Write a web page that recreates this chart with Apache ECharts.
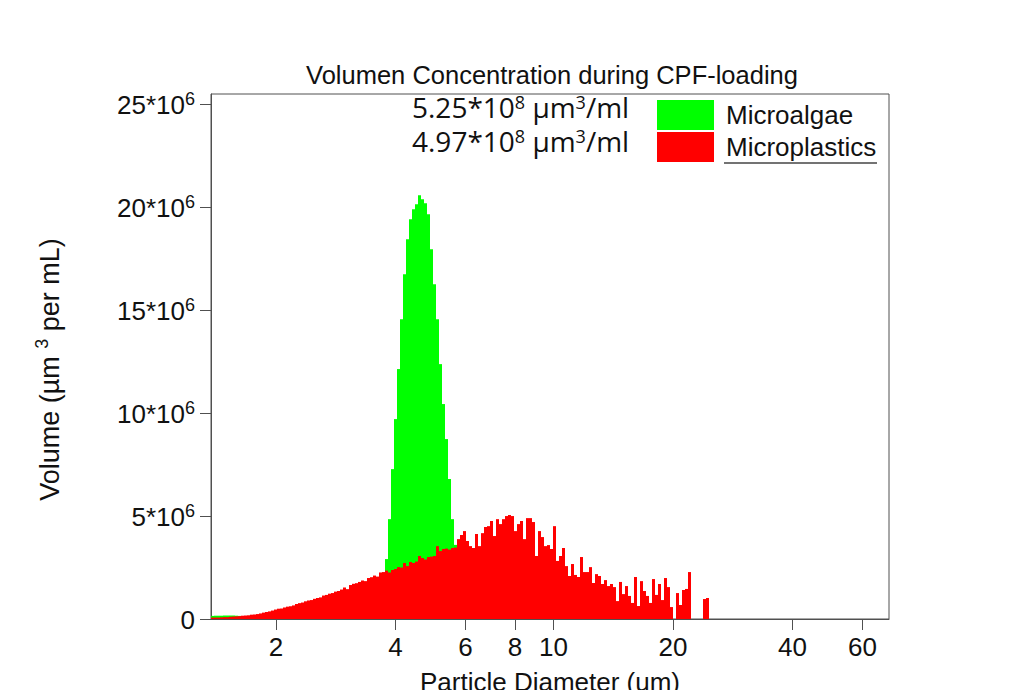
<!DOCTYPE html>
<html>
<head>
<meta charset="utf-8">
<script src="https://cdn.jsdelivr.net/npm/echarts@6/dist/echarts.min.js"></script>
<style>
  html, body { margin: 0; padding: 0; background: #ffffff; }
  #chart { width: 1024px; height: 690px; }
</style>
</head>
<body>
<div id="chart"></div>
<script>
// ---- Bin layout (log-spaced particle-size channels) ----
const binStartUm = 1.372;        // lower edge of the first channel (µm)
const binLogStep = 0.00756;      // channel width in log10(µm)

// ---- Microplastics volume per channel (×10^6 µm³/mL), channels from binStartUm ----
const microplastics = [
  0.07,0.07,0.07,0.08,0.09,0.09,0.11,0.12,0.13,0.14,
  0.16,0.17,0.18,0.21,0.22,0.24,0.27,0.31,0.34,0.37,
  0.41,0.46,0.50,0.51,0.56,0.60,0.62,0.66,0.73,0.77,
  0.80,0.86,0.90,0.92,0.98,1.02,1.05,1.14,1.17,1.23,
  1.26,1.33,1.36,1.43,1.53,1.45,1.65,1.71,1.74,1.80,
  1.87,1.84,1.99,2.03,2.11,2.06,2.26,2.28,2.35,2.26,
  2.38,2.43,2.52,2.50,2.72,2.57,2.77,2.72,2.79,3.06,
  2.96,2.89,3.01,3.03,3.06,3.54,3.30,3.40,3.42,3.37,
  3.45,3.47,3.88,4.08,4.27,3.79,3.54,3.45,4.13,3.54,
  4.17,4.47,4.51,4.76,4.03,4.85,4.61,4.85,5.00,5.05,
  5.00,4.27,4.61,4.76,3.88,4.90,4.90,4.71,3.06,4.27,
  3.98,3.54,3.59,3.40,4.51,2.82,3.06,3.45,2.57,2.09,
  2.67,2.14,2.04,3.01,2.28,2.28,2.52,1.75,2.18,2.09,
  1.70,1.89,1.60,1.70,1.55,0.87,1.80,1.21,1.60,1.12,
  0.78,2.04,0.63,1.84,1.36,1.12,0.78,1.94,1.17,1.70,
  0.92,1.99,1.55,0.58,0.00,1.26,0.68,1.41,1.46,2.28,
  0.00,0.00,0.00,0.00,0.97,1.02
];

// ---- Microalgae volume per channel (×10^6 µm³/mL) ----
const microalgaeTail = [0.15,0.16,0.16,0.16,0.17,0.17,0.17,0.17,0.16,0.15]; // from channel 0
const microalgaePeakStart = 57;                                             // channel index
const microalgaePeak = [
  2.10,2.91,4.85,7.28,9.71,12.14,14.56,16.75,18.45,19.42,
  19.90,20.15,20.58,20.39,20.19,19.66,17.96,16.26,14.56,12.38,
  10.44,8.74,6.80,4.85,3.60,2.20
];

// ---- Axes ----
const xMinUm = 1.372, xMaxUm = 70;
const xTickValues = [2, 4, 6, 8, 10, 20, 40, 60];
const yMax = 25.5, yInterval = 5;   // ×10^6
const totals = ['5.25', '4.97'];    // ×10^8 µm³/ml

const log10 = Math.log10;
function channels(values, startIndex) {
  return values.map((v, i) => {
    const k = startIndex + i;
    const lo = log10(binStartUm) + k * binLogStep;
    return [lo, lo + binLogStep, v];
  });
}

function barRenderer(color) {
  return function (params, api) {
    const v = api.value(2);
    if (v == null || isNaN(v) || v <= 0) return null;
    const p0 = api.coord([api.value(0), 0]);
    const p1 = api.coord([api.value(1), v]);
    const x0 = Math.round(p0[0]), x1 = Math.round(p1[0]);
    return {
      type: 'rect',
      shape: { x: x0, y: p1[1], width: x1 - x0, height: p0[1] - p1[1] },
      style: { fill: color }
    };
  };
}

const GREEN = '#00ff00', RED = '#ff0000';
const AX = '#505050';
const FONT = '"Liberation Sans", Arial, sans-serif';
const NOTE_FONT = '"Open Sans", sans-serif';
const noteRich = {
  a: { fontFamily: NOTE_FONT, fontSize: 28, fill: '#111', lineHeight: 28, verticalAlign: 'bottom' },
  s: { fontFamily: NOTE_FONT, fontSize: 18, fill: '#111', lineHeight: 28, verticalAlign: 'top' }
};

const chart = echarts.init(document.getElementById('chart'), null, { renderer: 'svg' });
chart.setOption({
  animation: false,
  backgroundColor: '#ffffff',
  title: {
    text: 'Volumen Concentration during CPF-loading',
    left: 547, top: 57, textAlign: 'center',
    textStyle: { fontFamily: FONT, fontSize: 25.5, fontWeight: 'normal', color: '#111' }
  },
  legend: {
    orient: 'vertical', left: 657, top: 100, padding: 0,
    itemWidth: 57, itemHeight: 30, itemGap: 2,
    icon: 'rect',
    textStyle: { fontFamily: FONT, fontSize: 26, color: '#111', padding: [0, 0, 0, 7] },
    data: ['Microalgae', 'Microplastics']
  },
  grid: {
    left: 211, right: 135, top: 94, bottom: 71,
    containLabel: false, outerBoundsMode: 'none',
    show: true, borderColor: AX, borderWidth: 1, backgroundColor: 'transparent'
  },
  xAxis: {
    type: 'value',
    min: log10(xMinUm), max: log10(xMaxUm),
    name: 'Particle Diameter (um)',
    nameLocation: 'middle', nameGap: 50,
    nameTextStyle: { fontFamily: FONT, fontSize: 26, color: '#111' },
    axisLine: { show: true, onZero: false, lineStyle: { color: AX, width: 1 } },
    axisTick: { show: true, length: 11, lineStyle: { color: AX }, customValues: xTickValues.map(log10) },
    axisLabel: {
      fontFamily: FONT, fontSize: 26, color: '#111', margin: 15,
      customValues: xTickValues.map(log10),
      formatter: v => String(Math.round(Math.pow(10, v)))
    },
    splitLine: { show: false }
  },
  yAxis: {
    type: 'value', min: 0, max: yMax, interval: yInterval,
    name: '{a|Volume (µm }{s|3}{a| per mL)}',
    nameLocation: 'middle', nameGap: 148, nameRotate: 90,
    nameTextStyle: {
      padding: [0, 26, 0, 0],
      rich: {
        a: { fontFamily: FONT, fontSize: 27, color: '#111', lineHeight: 30, verticalAlign: 'bottom' },
        s: { fontFamily: FONT, fontSize: 18, color: '#111', lineHeight: 30, verticalAlign: 'top' }
      }
    },
    axisLine: { show: true, lineStyle: { color: AX, width: 1 } },
    axisTick: { show: true, length: 11, lineStyle: { color: AX } },
    axisLabel: {
      margin: 16,
      formatter: v => v === 0 ? '{b|0}' : '{b|' + v + '*10}{s|6}',
      rich: {
        b: { fontFamily: FONT, fontSize: 26, color: '#111', lineHeight: 28, verticalAlign: 'bottom' },
        s: { fontFamily: FONT, fontSize: 18, color: '#111', lineHeight: 28, verticalAlign: 'top' }
      }
    },
    splitLine: { show: false }
  },
  graphic: [
    {
      type: 'text', left: 412, top: 93,
      style: { text: '{a|' + totals[0] + '*10}{s|8}{a| µm}{s|3}{a|/ml}', rich: noteRich }
    },
    {
      type: 'text', left: 412, top: 127,
      style: { text: '{a|' + totals[1] + '*10}{s|8}{a| µm}{s|3}{a|/ml}', rich: noteRich }
    },
    {
      type: 'line',
      shape: { x1: 724, y1: 163, x2: 877, y2: 163 },
      style: { stroke: '#444', lineWidth: 1.5 }
    }
  ],
  series: [
    {
      name: 'Microalgae', type: 'custom',
      itemStyle: { color: GREEN },
      renderItem: barRenderer(GREEN),
      encode: { x: [0, 1], y: 2 },
      data: channels(microalgaeTail, 0).concat(channels(microalgaePeak, microalgaePeakStart))
    },
    {
      name: 'Microplastics', type: 'custom',
      itemStyle: { color: RED },
      renderItem: barRenderer(RED),
      encode: { x: [0, 1], y: 2 },
      data: channels(microplastics, 0)
    }
  ]
});
</script>
</body>
</html>
